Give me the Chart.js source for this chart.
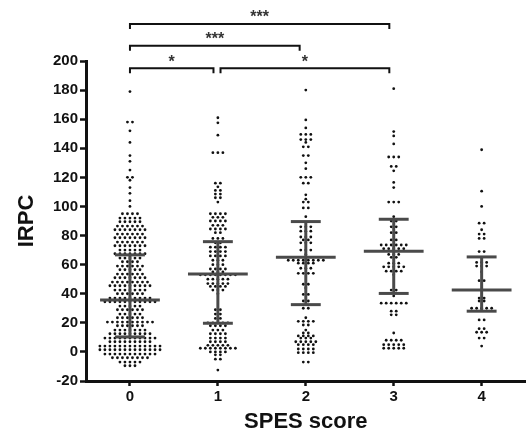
<!DOCTYPE html>
<html><head><meta charset="utf-8"><title>IRPC by SPES score</title>
<script src="https://cdn.jsdelivr.net/npm/chart.js"></script>
<style>html,body{margin:0;padding:0;background:#fff;}</style>
</head>
<body>
<canvas id="c" width="527" height="438"></canvas>
<script>
// ==================== DATA ====================
const CATEGORIES = [0, 1, 2, 3, 4];
const X_LABELS = ['0', '1', '2', '3', '4'];
const Y_MIN = -20, Y_MAX = 200, Y_STEP = 20;

// each row: [IRPC value, number of patients plotted at that value]
const ROWS_0 = [[179,1],[158,2],[152,1],[144,1],[135,1],[131,1],[125,1],[120,2],[118,1],[113,1],[109,1],[104,1],[100,1],
  [95,4],[92,5],[89.5,5],[86.5,6],[84,7],[81,6],[78.5,7],[75.5,6],[73,7],[70,5],[67.5,7],[64.5,5],[62,4],[59,6],
  [56.5,5],[53.5,6],[51,7],[48,8],[45.5,9],[42.5,7],[40,6],[37,9],[34.5,11],[31.5,5],[29,6],[26,5],[23.5,6],[20.5,10],
  [18,6],[15,7],[12.5,9],[9.5,11],[7,9],[4,13],[1.5,13],[-1.5,11],[-4,8],[-7,5],[-9.5,3]];
const ROWS_1 = [[161,1],[157.5,1],[149,1],[137,3],[116,2],[113.5,1],[111,2],[108.5,2],[106,2],[103,1],
  [95,4],[92.5,3],[90,4],[87,3],[84.5,4],[82,2],[78,3],[75,2],[72,4],[69,4],[66,4],[63,3],[60,3],[57,4],[55,3],
  [53,8],[50,5],[47,5],[45,4],[42.5,3],[40,1],[29,2],[26,2],[23,2],[20,5],[18,4],[15,3],[12.5,4],[9.5,4],[7,4],
  [4.5,5],[2.5,8],[0,4],[-2,2],[-5,2],[-12.5,1]];
const ROWS_2 = [[180,1],[159.5,1],[154,1],[149.5,3],[146,3],[144,1],[141,2],[135,2],[130,1],[126,1],[120,3],[116,2],
  [108,1],[105,1],[103,2],[99,2],[93,1],[86,3],[83,3],[79,3],[77,2],[75,3],[70,3],[67,1],[63,8],[61,4],[57.5,3],
  [54,4],[46.5,2],[44,1],[39.5,2],[35,2],[30,2],[23.5,1],[21,4],[18.5,2],[15,1],[13,2],[11,4],[9.5,3],[7,5],[5,4],
  [2,4],[-0.5,4],[-7,2]];
const ROWS_3 = [[181,1],[151.5,1],[148.5,1],[143,1],[134,3],[127.5,2],[124.5,1],[116.5,1],[113,1],[103,3],[93,1],
  [90,2],[86,2],[82,2],[77,2],[73.5,6],[71,5],[67,3],[65,2],[61,3],[58.5,5],[55.5,4],[53,1],[42.5,2],[38.5,1],
  [33.5,6],[28,2],[25.5,2],[13,1],[8,4],[5,5],[2.5,5]];
const ROWS_4 = [[139,1],[110.5,1],[100,1],[88.5,2],[84,1],[81,2],[78,2],[69,2],[61.5,3],[59,3],[55,1],[49,2],
  [37,2],[35,2],[30,5],[22,2],[16,2],[13.5,3],[9.5,2],[4,1]];
const ROWS = [ROWS_0, ROWS_1, ROWS_2, ROWS_3, ROWS_4];

// median with interquartile range
const MEDIANS = [35.7, 53.5, 65, 69.2, 42.6];
const Q1 = [10.3, 19.7, 32.5, 40.2, 28];
const Q3 = [66.7, 75.8, 89.6, 91.2, 65.3];

// significance brackets
const BRACKET_FROM = [0, 0, 0, 1.03];
const BRACKET_TO = [2.95, 1.93, 0.95, 2.95];
const BRACKET_LEVEL = [225.5, 210.5, 195, 195];
const BRACKET_LABEL = ['***', '***', '*', '*'];

// ==================== LAYOUT ====================
const DOT_STEP = 0.057; // horizontal gap between dots of one row, in category units
const points = [];
ROWS.forEach((rows, i) => {
  rows.forEach(([v, n]) => {
    for (let k = 0; k < n; k++) points.push({ x: CATEGORIES[i] + (k - (n - 1) / 2) * DOT_STEP, y: v });
  });
});

const overlay = {
  id: 'overlay',
  afterDatasetsDraw(chart) {
    const { ctx, scales: { x, y } } = chart;
    const seg = (x1, y1, x2, y2) => { ctx.beginPath(); ctx.moveTo(x1, y1); ctx.lineTo(x2, y2); ctx.stroke(); };
    ctx.save();
    ctx.strokeStyle = '#4a4a4a';
    ctx.lineWidth = 3;
    CATEGORIES.forEach((c, i) => {
      const cx = x.getPixelForValue(c);
      const wm = x.getPixelForValue(c + 0.34) - cx;
      const wq = x.getPixelForValue(c + 0.17) - cx;
      seg(cx, y.getPixelForValue(Q1[i]), cx, y.getPixelForValue(Q3[i]));
      seg(cx - wm, y.getPixelForValue(MEDIANS[i]), cx + wm, y.getPixelForValue(MEDIANS[i]));
      seg(cx - wq, y.getPixelForValue(Q1[i]), cx + wq, y.getPixelForValue(Q1[i]));
      seg(cx - wq, y.getPixelForValue(Q3[i]), cx + wq, y.getPixelForValue(Q3[i]));
    });
    ctx.strokeStyle = '#111';
    ctx.lineWidth = 2;
    ctx.fillStyle = '#333';
    ctx.font = 'bold 16px "Liberation Sans", Arial';
    ctx.textAlign = 'center';
    ctx.textBaseline = 'bottom';
    BRACKET_LABEL.forEach((lab, i) => {
      const x1 = x.getPixelForValue(BRACKET_FROM[i]), x2 = x.getPixelForValue(BRACKET_TO[i]);
      const by = y.getPixelForValue(BRACKET_LEVEL[i]);
      ctx.beginPath();
      ctx.moveTo(x1, by + 5); ctx.lineTo(x1, by); ctx.lineTo(x2, by); ctx.lineTo(x2, by + 5);
      ctx.stroke();
      ctx.fillText(lab, (x1 + x2) / 2, by + 2);
    });
    ctx.restore();
  }
};

// ==================== CHART ====================
const tickFont = { family: '"Liberation Sans", Arial', size: 15, weight: 'bold' };
const titleFont = { family: '"Liberation Sans", Arial', size: 22, weight: 'bold' };

new Chart(document.getElementById('c'), {
  type: 'scatter',
  data: { datasets: [{ data: points, pointRadius: 1.4, pointHoverRadius: 1.4, backgroundColor: '#111', borderWidth: 0 }] },
  options: {
    responsive: false,
    animation: false,
    devicePixelRatio: 1,
    layout: { padding: { top: 61, right: 0, bottom: 0, left: 0 } },
    plugins: { legend: { display: false }, tooltip: { enabled: false } },
    scales: {
      x: {
        type: 'linear', min: -0.5, max: 4.5,
        afterBuildTicks: (s) => { s.ticks = CATEGORIES.map(v => ({ value: v })); },
        afterFit: (s) => { s.height = 57; },
        ticks: { color: '#111', font: tickFont, padding: 2, callback: (v) => X_LABELS[CATEGORIES.indexOf(v)] },
        grid: { drawOnChartArea: false, tickLength: 5, tickColor: '#111', tickWidth: 2.5 },
        border: { color: '#111', width: 3 },
        title: { display: true, text: 'SPES score', color: '#111', font: titleFont, padding: { top: 0, bottom: 3 } }
      },
      y: {
        min: Y_MIN, max: Y_MAX,
        afterFit: (s) => { s.width = 86; },
        ticks: { stepSize: Y_STEP, color: '#111', font: tickFont, padding: 2 },
        grid: { drawOnChartArea: false, tickLength: 6, tickColor: '#111', tickWidth: 2.5 },
        border: { color: '#111', width: 3 },
        title: { display: true, text: 'IRPC', color: '#111', font: titleFont, padding: { top: 14, bottom: 0 } }
      }
    }
  },
  plugins: [overlay]
});
</script>
</body></html>
